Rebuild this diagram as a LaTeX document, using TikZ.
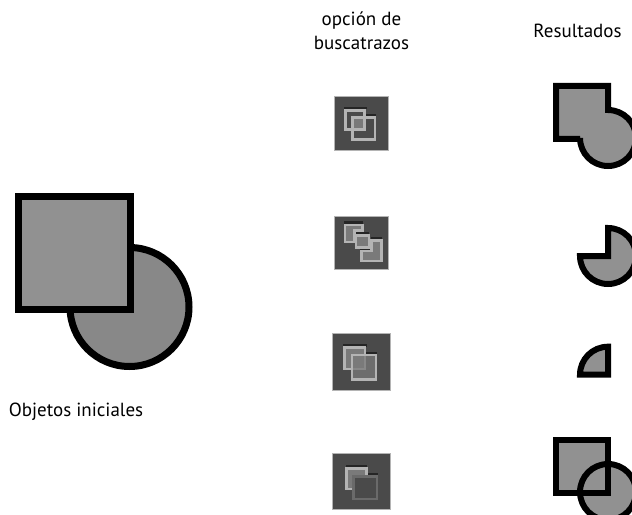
\documentclass[tikz,border=0pt]{standalone}
\usepackage{fontspec}
\setmainfont{PT Sans}
\definecolor{squarefill}{HTML}{919191}
\definecolor{circlefill}{HTML}{888888}
\definecolor{iconbg}{HTML}{4A4A4A}
\definecolor{iconedge}{HTML}{B4B4B4}
\definecolor{iconlight}{HTML}{B4B4B4}
\definecolor{icondark}{HTML}{252525}
\definecolor{icongray}{HTML}{7A7A7A}
\definecolor{iconfaint}{HTML}{6A6A6A}
\tikzset{
  shapeline/.style={draw=black,fill=squarefill,miter limit=10},
  bigline/.style={shapeline,line width=7bp},
  smallline/.style={shapeline,line width=6bp},
  label/.style={font=\fontsize{19bp}{24bp}\selectfont,text=black,align=center,inner sep=0pt},
  iconbox/.style={fill=iconbg,draw=iconedge,line width=.6bp},
  lightline/.style={draw=iconlight,line width=2.7bp},
  faintline/.style={draw=iconfaint,line width=2.7bp},
  darkbar/.style={fill=icondark},
  zoomA/.style={x=.3333bp,y=-.3333bp,xshift=320bp,yshift=-85bp},
  zoomB/.style={x=.3333bp,y=-.3333bp,xshift=320bp,yshift=-325bp},
}
\begin{document}
\begin{tikzpicture}[x=1bp,y=-1bp]
\useasboundingbox (0,0) rectangle (632,515);
\fill[white] (0,0) rectangle (632,515);
% main objects
\draw[bigline,fill=circlefill] (129.5,307) circle (59.5);
\draw[bigline] (18.2,196.8) rectangle (130.4,309.2);
% results
\begin{scope}
\clip (0,0) rectangle (632,515);
\draw[smallline] (556,86) -- (608,86) -- (608,110) arc (-90:180:28) -- (580,139) -- (556,139) -- cycle;
\draw[smallline] (608,228) arc (-90:180:28) -- (608,256) -- cycle;
\draw[smallline] (580,374.7) arc (180:270:28) -- (608,374.7) -- cycle;
\fill[squarefill] (556,440) rectangle (608,493);
\fill[squarefill] (608,492) circle (28);
\draw[line width=6bp,draw=black] (556,440) rectangle (608,493);
\draw[line width=6bp,draw=black] (608,492) circle (28);
\end{scope}
% icon 1
\begin{scope}[zoomA]
\draw[iconbox] (43,35) rectangle (205,197);
\fill[darkbar] (72,65) rectangle (140,71);
\fill[darkbar] (135,87) rectangle (167,94);
\fill[icongray] (100,100) rectangle (135,135);
\draw[lightline] (76,76) rectangle (134,134);
\draw[lightline] (98,98) rectangle (165,163);
% icon 2
\draw[iconbox] (44,393) rectangle (204,553);
\fill[darkbar] (72,408) rectangle (130,416);
\fill[darkbar] (105,441) rectangle (147,449);
\fill[darkbar] (152,457) rectangle (187,464);
\fill[darkbar] (120,490) rectangle (152,498);
\draw[lightline,fill=icongray] (75,420) -- (127,420) -- (127,437) -- (103,437) -- (103,471) -- (75,471) -- cycle;
\draw[lightline,fill=icongray] (108,452) rectangle (147,488);
\draw[lightline,fill=icongray] (124,528) -- (184,528) -- (184,467) -- (154,467) -- (154,498) -- (124,498) -- cycle;
\end{scope}
% icon 3
\begin{scope}[zoomB]
\draw[iconbox] (38,25) rectangle (210,197);
\fill[darkbar] (70,57) rectangle (140,66);
\fill[darkbar] (135,81) rectangle (170,88);
\draw[lightline,fill=icongray] (73,68) rectangle (135,132);
\draw[draw=iconlight,line width=2.7bp,fill=icongray,fill opacity=.75] (96,90) rectangle (168,163);
% icon 4
\draw[iconbox] (38,385) rectangle (210,553);
\fill[darkbar] (77,420) rectangle (142,426);
\fill[darkbar] (140,443) rectangle (173,450);
\draw[lightline,fill=icongray] (79,430) rectangle (140,492);
\draw[faintline,fill=iconbg] (101,454) rectangle (171,522);
\end{scope}
% labels
\node[label] (opcion) at (361.5,31) {opción de\\buscatrazos};
\node[label] (resultados) at (577.5,31) {Resultados};
\node[label] (iniciales) at (76,412) {Objetos iniciales};
\end{tikzpicture}
\end{document}
